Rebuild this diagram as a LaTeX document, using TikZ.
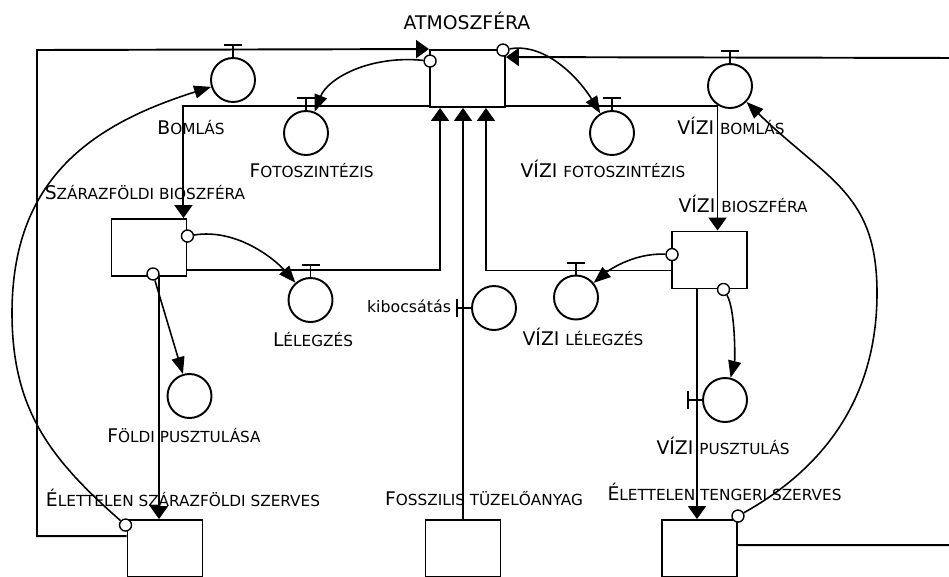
\documentclass[tikz,border=0pt]{standalone}
\usepackage{fontspec}
\setmainfont{DejaVu Sans}
\usepackage{tikz}
\usetikzlibrary{calc, arrows.meta, positioning}

\newcommand{\bigpart}[1]{{\fontsize{10.7}{12}\selectfont #1}}
\newcommand{\smc}[2]{\bigpart{#1}{\fontsize{8.7}{10}\selectfont #2}}

\begin{document}
\begin{tikzpicture}[x=0.02cm,y=-0.02cm,line width=1.1pt,
    stock node/.style={rectangle,draw,minimum width=1.5cm,minimum height=1.14cm,inner sep=0pt},
    aux node/.style={circle,draw,minimum size=0.88cm,inner sep=0pt},
    dot node/.style={circle,draw,fill=white,minimum size=0.24cm,inner sep=0pt,line width=0.8pt},
    lbl/.style={anchor=base,inner sep=0pt},
    pipe/.style={-{Triangle[length=0.26cm,width=0.36cm]}},
    link/.style={line width=0.9pt,-{Triangle[length=0.34cm,width=0.26cm]}}]
\useasboundingbox (0,0) rectangle (949,576);

% stocks
\node[stock node] (Atmoszfera) at (467.5,78.5) {};
\node[stock node] (SzarazBio) at (149,247.5) {};
\node[stock node] (ViziBio) at (709.5,260) {};
\node[stock node] (HoltSzaraz) at (165,548.5) {};
\node[stock node] (Fosszilis) at (463,548.5) {};
\node[stock node] (HoltTengeri) at (699.5,548.5) {};

% flow rates
\node[aux node] (Bomlas) at (233,80) {};
\node[aux node] (Fotoszint) at (306,133) {};
\node[aux node] (ViziFotoszint) at (612,133) {};
\node[aux node] (ViziBomlas) at (730,86) {};
\node[aux node] (Legzes) at (310.5,300) {};
\node[aux node] (Kibocsatas) at (494,308) {};
\node[aux node] (ViziLegzes) at (576,297.5) {};
\node[aux node] (FoldiPuszt) at (189.5,396) {};
\node[aux node] (ViziPuszt) at (725,400) {};

\foreach \v in {Bomlas,Fotoszint,ViziFotoszint,ViziBomlas,Legzes,ViziLegzes}
   \draw (\v.north) -- ++(0,-12) +(-9,0) -- +(9,0);
\foreach \v in {Kibocsatas,ViziPuszt}
   \draw (\v.west) -- ++(-14,0) +(0,-9) -- +(0,9);

% pipes
\coordinate (BomlasTop) at (37,50);
\draw[pipe] ($(HoltSzaraz.north west)+(0,17)$) -| (BomlasTop) -- (Atmoszfera.north west);
\coordinate (ViziBomlasTop) at (960,58);
\draw[pipe] ($(HoltTengeri.north east)+(0,26)$) -| (ViziBomlasTop) -- ($(Atmoszfera.north east)+(0,8)$);
\draw[pipe] ($(Atmoszfera.south west)+(0,-2)$) -| ($(SzarazBio.north east)+(-4,0)$);
\draw[pipe] ($(Atmoszfera.south east)+(0,-2)$) -| ($(ViziBio.north)+(8,0)$);
\draw[pipe] ($(SzarazBio.south east)+(0,-7)$) -| ($(Atmoszfera.south west)+(11,0)$);
\draw[pipe] ($(ViziBio.south west)+(0,-19)$) -| ($(Atmoszfera.south east)+(-20,0)$);
\draw[pipe] (Fosszilis.north) -- (Fosszilis.north |- Atmoszfera.south);
\draw[pipe] ($(SzarazBio.south)+(10,0)$) -- ($(HoltSzaraz.north)+(-6,0)$);
\draw[pipe] ($(ViziBio.south)+(-12.5,0)$) -- ($(HoltTengeri.north)+(-2.5,0)$);

% links
\node[dot node] (AtmDotL) at ($(Atmoszfera.north west)+(1,12)$) {};
\node[dot node] (AtmDotR) at ($(Atmoszfera.north east)+(-3,1)$) {};
\node[dot node] (SzarazDotR) at ($(SzarazBio.north east)+(0,18)$) {};
\node[dot node] (SzarazDotB) at ($(SzarazBio.south)+(4,-3)$) {};
\node[dot node] (ViziDotL) at ($(ViziBio.north west)+(1,24)$) {};
\node[dot node] (ViziDotB) at ($(ViziBio.south)+(14,0)$) {};
\node[dot node] (HoltSzarazDot) at ($(HoltSzaraz.north west)+(-1,6)$) {};
\node[dot node] (HoltTengeriDot) at ($(HoltTengeri.north east)+(0,-3)$) {};

\draw[link] (AtmDotL) .. controls +(-60,-6) and +(22,-55) .. (Fotoszint);
\draw[link] (AtmDotR) .. controls +(45,-8) and +(-30,-50) .. (ViziFotoszint);
\draw[link] (SzarazDotR) .. controls +(50,-8) and +(-35,-40) .. (Legzes);
\draw[link] (SzarazDotB) -- (FoldiPuszt);
\draw[link] (ViziDotL) .. controls +(-40,-2) and +(30,-25) .. (ViziLegzes);
\draw[link] (ViziDotB) .. controls +(12,20) and +(10,-40) .. (ViziPuszt);
\coordinate (BalIv) at (12,313);
\draw[link] (HoltSzarazDot) .. controls +(-75,-66) and (12,410) .. (BalIv)
   .. controls (12,180) and (90,125) .. (Bomlas);
\coordinate (JobbIv) at (877,293);
\draw[link] (HoltTengeriDot) .. controls +(100,-56) and (877,383) .. (JobbIv)
   .. controls (877,193) and (828,181) .. (ViziBomlas);

% labels
\node[lbl] (AtmLabel) at (467,29) {\bigpart{ATMOSZFÉRA}};
\node[lbl] (BomlasLabel) at (191,134) {\smc{B}{OMLÁS}};
\node[lbl] (FotoLabel) at (311.5,177) {\smc{F}{OTOSZINTÉZIS}};
\node[lbl] (ViziFotoLabel) at (603,177) {\smc{VÍZI }{FOTOSZINTÉZIS}};
\node[lbl] (ViziBomlasLabel) at (731,134) {\smc{VÍZI }{BOMLÁS}};
\node[lbl] (SzarazLabel) at (145,199) {\smc{S}{ZÁRAZFÖLDI BIOSZFÉRA}};
\node[lbl] (ViziBioLabel) at (743,212) {\smc{VÍZI }{BIOSZFÉRA}};
\node[lbl] (LegzesLabel) at (313,346) {\smc{L}{ÉLEGZÉS}};
\node[lbl,anchor=base east] (KibLabel) at (452,312) {\fontsize{9}{11}\selectfont kibocsátás};
\node[lbl] (ViziLegzesLabel) at (583,345) {\smc{VÍZI }{LÉLEGZÉS}};
\node[lbl] (FoldiLabel) at (184,442) {\smc{F}{ÖLDI PUSZTULÁSA}};
\node[lbl] (ViziPusztLabel) at (723,454) {\smc{VÍZI }{PUSZTULÁS}};
\node[lbl] (HoltSzarazLabel) at (183,506) {\smc{É}{LETTELEN SZÁRAZFÖLDI SZERVES}};
\node[lbl] (FosszLabel) at (484,505) {\smc{F}{OSSZILIS TÜZELŐANYAG}};
\node[lbl] (HoltTengeriLabel) at (724.5,500) {\smc{É}{LETTELEN TENGERI SZERVES}};

\end{tikzpicture}
\end{document}
